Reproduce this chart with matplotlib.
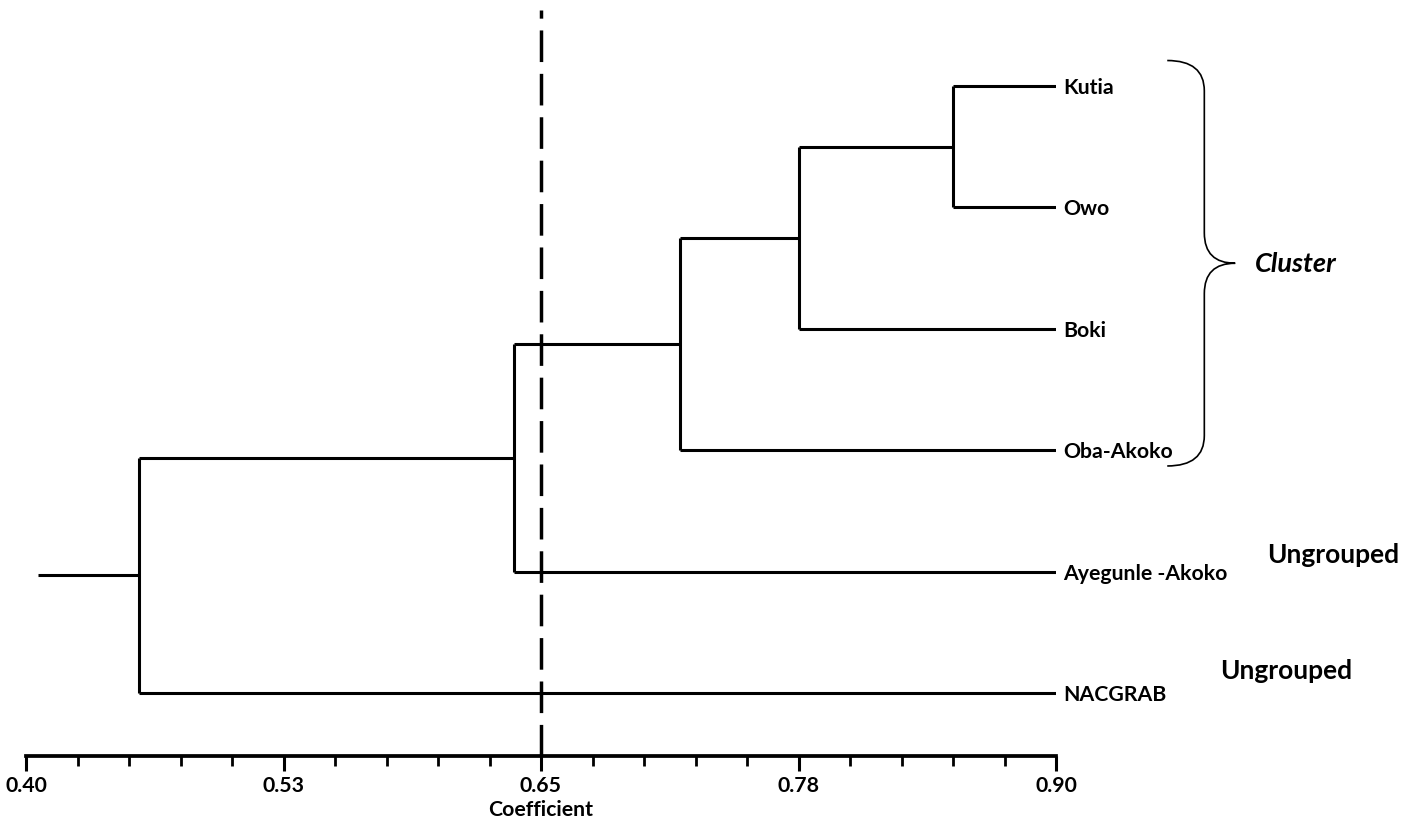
# dendrograma - coeficiente de similaridade

import matplotlib
matplotlib.use('Agg')
import matplotlib.pyplot as plt
from matplotlib.path import Path
from matplotlib.patches import PathPatch

plt.rcParams['font.family'] = ['Lato', 'DejaVu Sans']
plt.rcParams['font.weight'] = 'bold'

leaves = ['Kutia', 'Owo', 'Boki', 'Oba-Akoko', 'Ayegunle -Akoko', 'NACGRAB']
merge_heights = [0.850, 0.775, 0.7175, 0.637, 0.455]   # leaf i+1 joins cluster at merge_heights[i]
root_start = 0.4056
cut_off = 0.65

major_ticks = [0.40, 0.525, 0.65, 0.775, 0.90]
tick_labels = ['0.40', '0.53', '0.65', '0.78', '0.90']
minor_step = 0.025

fig = plt.figure(figsize=(14.22, 8.25), dpi=100)
ax = fig.add_axes([26 / 1422, (825 - 755.7) / 825, 1030 / 1422, (755.7 - 10) / 825])

lw = 2.2
ys = list(range(len(leaves)))
x_end = 0.90

# leaves
ax.hlines(0, merge_heights[0], x_end, color='k', lw=lw)
for i in range(1, len(leaves)):
    ax.hlines(ys[i], merge_heights[i - 1], x_end, color='k', lw=lw)

# joins
cy = ys[0]
for i, h in enumerate(merge_heights):
    ax.vlines(h, cy, ys[i + 1], color='k', lw=lw)
    cy = (cy + ys[i + 1]) / 2
    nxt = merge_heights[i + 1] if i + 1 < len(merge_heights) else root_start
    ax.hlines(cy, nxt, h, color='k', lw=lw)

for y, name in zip(ys, leaves):
    ax.annotate(name, (x_end, y), xytext=(5, -5.8), textcoords='offset points',
                ha='left', va='baseline', fontsize=15.3, fontweight='bold', annotation_clip=False)

# linha de corte
ax.axvline(cut_off, color='k', lw=2.5, linestyle=(0, (9.1, 3.4)))

# chave do cluster
xa, xb, xc = 0.954, 0.972, 0.987
yt, yb = -0.21, 3.13
ym = (yt + yb) / 2
r = 0.25
verts = [(xa, yt), (xb, yt), (xb, yt + r),
         (xb, ym - r), (xb, ym), (xc, ym),
         (xb, ym), (xb, ym + r),
         (xb, yb - r), (xb, yb), (xa, yb)]
codes = [Path.MOVETO, Path.CURVE3, Path.CURVE3,
         Path.LINETO, Path.CURVE3, Path.CURVE3,
         Path.CURVE3, Path.CURVE3,
         Path.LINETO, Path.CURVE3, Path.CURVE3]
ax.add_patch(PathPatch(Path(verts, codes), fill=False, lw=1.2, color='k', clip_on=False))

ax.text(0.9966, 1.532, 'Cluster', fontsize=19.5, fontweight='bold', fontstyle='italic',
        ha='left', va='baseline', clip_on=False)
ax.text(1.0024, 3.929, 'Ungrouped', fontsize=19, fontweight='bold', ha='left', va='baseline', clip_on=False)
ax.text(0.9796, 4.885, 'Ungrouped', fontsize=19, fontweight='bold', ha='left', va='baseline', clip_on=False)

ax.set_xlim(0.40, 0.90)
ax.set_ylim((755.7 - 86) / 121.4, (10 - 86) / 121.4)

for s in ['top', 'right', 'left']:
    ax.spines[s].set_visible(False)
ax.spines['bottom'].set_linewidth(2.7)
ax.set_yticks([])
ax.set_xticks(major_ticks)
ax.set_xticklabels(tick_labels, fontsize=15.3, fontweight='bold')
ax.set_xticks([0.40 + minor_step * k for k in range(21)], minor=True)
ax.tick_params(axis='x', which='major', length=10.8, width=2.2, pad=4)
ax.tick_params(axis='x', which='minor', length=7.2, width=2.0)
ax.set_xlabel('Coefficient', fontsize=15.3, fontweight='bold', labelpad=3)

fig.savefig('out.png', dpi=100)
